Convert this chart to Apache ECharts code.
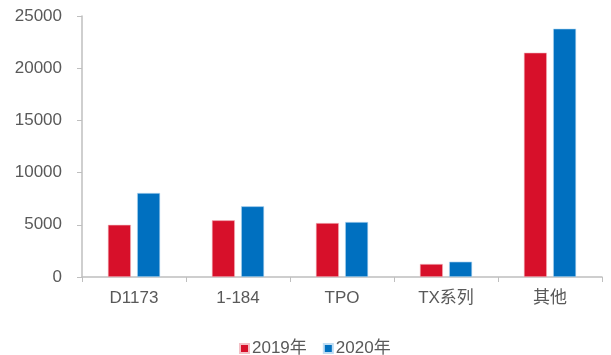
<!DOCTYPE html>
<html><head><meta charset="utf-8">
<script src="https://cdn.jsdelivr.net/npm/echarts@6/dist/echarts.min.js"></script>
<style>html,body{margin:0;padding:0;background:#fff}#c{width:611px;height:355px}</style>
</head><body><div id="c"></div>
<script>
const categories = ['D1173', '1-184', 'TPO', 'TX系列', '其他'];
const values2019 = [5000, 5430, 5170, 1250, 21490];
const values2020 = [8050, 6770, 5270, 1470, 23790];
const seriesNames = ['2019年', '2020年'];
const yTicks = { min: 0, max: 25000, interval: 5000 };

const font = '"Liberation Sans", "Noto Sans CJK SC", sans-serif';
const chart = echarts.init(document.getElementById('c'));
chart.setOption({
  animation: false,
  textStyle: { fontFamily: font },
  grid: { left: 82, right: 9, top: 16, bottom: 78 },
  legend: {
    left: 234, bottom: -7, itemWidth: 9, itemHeight: 9, itemGap: 16,
    icon: 'rect',
    textStyle: { fontSize: 17, color: '#595959', fontFamily: font, padding: [0, 0, 0, -2] },
    data: seriesNames
  },
  xAxis: {
    type: 'category', data: categories,
    axisLine: { lineStyle: { color: '#BFBFBF', width: 1.5 } },
    axisTick: { show: true, alignWithLabel: false, length: 5, lineStyle: { color: '#BFBFBF' } },
    axisLabel: { fontSize: 17, color: '#595959', margin: 13, fontFamily: font }
  },
  yAxis: {
    type: 'value', min: yTicks.min, max: yTicks.max, interval: yTicks.interval,
    axisLine: { show: true, lineStyle: { color: '#BFBFBF', width: 1.5 } },
    axisTick: { show: true, length: 5, lineStyle: { color: '#BFBFBF' } },
    splitLine: { show: false },
    axisLabel: { fontSize: 17, color: '#595959', margin: 20, fontFamily: font,
      formatter: v => String(v) }
  },
  series: [
    { name: seriesNames[0], type: 'bar', data: values2019, barWidth: 23, barGap: '27%',
      itemStyle: { color: '#D7102A', borderColor: '#F3C0C6', borderWidth: 0.6 } },
    { name: seriesNames[1], type: 'bar', data: values2020, barWidth: 23,
      itemStyle: { color: '#0070C0', borderColor: '#BFDDF3', borderWidth: 0.6 } }
  ]
});
</script></body></html>
